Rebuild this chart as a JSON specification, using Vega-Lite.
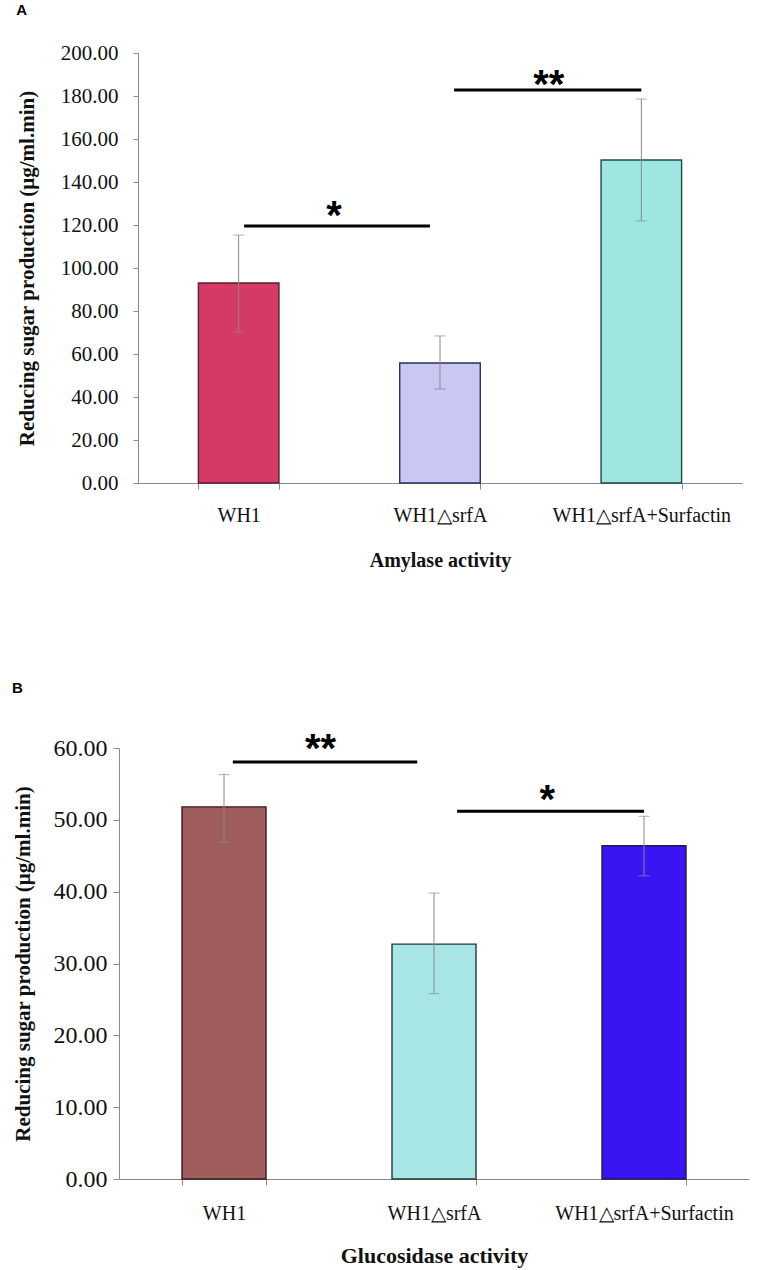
{
  "$schema": "https://vega.github.io/schema/vega-lite/v6.json",
  "background": "white",
  "padding": {"left": 12, "top": 3, "right": 10, "bottom": 2},
  "config": {
    "view": {"stroke": null},
    "font": "Liberation Serif",
    "axis": {"grid": false, "domainColor": "#8a8a8a", "tickColor": "#8a8a8a", "labelColor": "#111", "titleColor": "#111", "labelFont": "Liberation Serif", "titleFont": "Liberation Serif", "titleFontWeight": "bold"}
  },
  "datasets": {
    "a_bars": [
      {"strain": "WH1", "mean": 93.0, "lo": 70.2, "hi": 115.3},
      {"strain": "WH1△srfA", "mean": 55.8, "lo": 43.7, "hi": 68.4},
      {"strain": "WH1△srfA+Surfactin", "mean": 150.2, "lo": 121.9, "hi": 178.6}
    ],
    "a_sig": [
      {"x0": 0.527, "x1": 1.45, "y": 119.5, "xs": 0.974, "ys": 126.5, "label": "*"},
      {"x0": 1.57, "x1": 2.5, "y": 182.8, "xs": 2.04, "ys": 187.4, "label": "**"}
    ],
    "b_bars": [
      {"strain": "WH1", "mean": 51.8, "lo": 46.9, "hi": 56.3},
      {"strain": "WH1△srfA", "mean": 32.7, "lo": 25.8, "hi": 39.8},
      {"strain": "WH1△srfA+Surfactin", "mean": 46.4, "lo": 42.2, "hi": 50.5}
    ],
    "b_sig": [
      {"x0": 0.542, "x1": 1.42, "y": 58.05, "xs": 0.96, "ys": 60.6, "label": "**"},
      {"x0": 1.61, "x1": 2.5, "y": 51.2, "xs": 2.04, "ys": 53.5, "label": "*"}
    ]
  },
  "columns": 1,
  "align": "none",
  "spacing": 110,
  "resolve": {"scale": {"fill": "independent", "stroke": "independent", "x": "independent", "y": "independent"}},
  "concat": [
    {
      "title": {"text": "A", "anchor": "start", "frame": "bounds", "font": "Liberation Sans", "fontSize": 15, "fontWeight": "bold", "color": "#000", "offset": 24},
      "width": 623,
      "height": 430,
      "layer": [
        {
          "data": {"name": "a_bars"},
          "layer": [
            {
              "mark": {"type": "bar", "strokeWidth": 1.4},
              "encoding": {
                "x": {"field": "strain", "type": "nominal", "sort": null, "title": "Amylase activity",
                  "scale": {"paddingInner": 0.6, "paddingOuter": 0.3, "range": [19, 623]},
                  "axis": {"tickBand": "extent", "tickSize": 6, "labelAngle": 0, "labelFontSize": 20, "labelPadding": 16, "titleFontSize": 20, "titlePadding": 25}},
                "y": {"field": "mean", "type": "quantitative", "title": "Reducing sugar production (μg/ml.min)",
                  "scale": {"domain": [0, 200]},
                  "axis": {"offset": -19, "values": [0, 20, 40, 60, 80, 100, 120, 140, 160, 180, 200], "format": ".2f", "tickSize": 5, "labelFontSize": 21, "labelPadding": 15, "titleFontSize": 21, "titlePadding": 23}},
                "fill": {"field": "strain", "type": "nominal", "legend": null,
                  "scale": {"domain": ["WH1", "WH1△srfA", "WH1△srfA+Surfactin"], "range": ["#D43A63", "#C8C8F3", "#9EE7E1"]}},
                "stroke": {"field": "strain", "type": "nominal", "legend": null,
                  "scale": {"domain": ["WH1", "WH1△srfA", "WH1△srfA+Surfactin"], "range": ["#5a1f30", "#2e2e5a", "#1f4a4a"]}}
              }
            },
            {
              "mark": {"type": "rule", "color": "#8a8a8a", "strokeWidth": 1},
              "encoding": {
                "x": {"field": "strain", "type": "nominal", "sort": null},
                "y": {"field": "lo", "type": "quantitative"},
                "y2": {"field": "hi"}
              }
            },
            {
              "mark": {"type": "tick", "color": "#8a8a8a", "size": 11, "thickness": 1},
              "encoding": {
                "x": {"field": "strain", "type": "nominal", "sort": null},
                "y": {"field": "hi", "type": "quantitative"}
              }
            },
            {
              "mark": {"type": "tick", "color": "#8a8a8a", "size": 11, "thickness": 1},
              "encoding": {
                "x": {"field": "strain", "type": "nominal", "sort": null},
                "y": {"field": "lo", "type": "quantitative"}
              }
            }
          ]
        },
        {
          "data": {"name": "a_sig"},
          "layer": [
            {
              "mark": {"type": "rule", "color": "#000", "strokeWidth": 3},
              "encoding": {
                "x": {"field": "x0", "type": "quantitative", "scale": {"domain": [0, 3], "range": [19, 623], "nice": false, "zero": false}, "axis": null},
                "x2": {"field": "x1"},
                "y": {"field": "y", "type": "quantitative"}
              }
            },
            {
              "mark": {"type": "text", "font": "Liberation Sans", "fontSize": 40, "fontWeight": "bold", "dy": 6, "color": "#000"},
              "encoding": {
                "x": {"field": "xs", "type": "quantitative"},
                "y": {"field": "ys", "type": "quantitative"},
                "text": {"field": "label"}
              }
            }
          ]
        }
      ],
      "resolve": {"scale": {"x": "independent"}}
    },
    {
      "title": {"text": "B", "anchor": "start", "frame": "bounds", "font": "Liberation Sans", "fontSize": 15, "fontWeight": "bold", "color": "#000", "offset": 34},
      "width": 630,
      "height": 431,
      "layer": [
        {
          "data": {"name": "b_bars"},
          "layer": [
            {
              "mark": {"type": "bar", "strokeWidth": 1.4},
              "encoding": {
                "x": {"field": "strain", "type": "nominal", "sort": null, "title": "Glucosidase activity",
                  "scale": {"paddingInner": 0.6, "paddingOuter": 0.3},
                  "axis": {"tickBand": "extent", "tickSize": 6, "labelAngle": 0, "labelFontSize": 20, "labelPadding": 18, "titleFontSize": 22, "titlePadding": 22}},
                "y": {"field": "mean", "type": "quantitative", "title": "Reducing sugar production (μg/ml.min)",
                  "scale": {"domain": [0, 60]},
                  "axis": {"values": [0, 10, 20, 30, 40, 50, 60], "format": ".2f", "tickSize": 6, "labelFontSize": 24, "labelPadding": 6, "titleFontSize": 21, "titlePadding": 20}},
                "fill": {"field": "strain", "type": "nominal", "legend": null,
                  "scale": {"domain": ["WH1", "WH1△srfA", "WH1△srfA+Surfactin"], "range": ["#A05D5D", "#A8E5E5", "#3B14F4"]}},
                "stroke": {"field": "strain", "type": "nominal", "legend": null,
                  "scale": {"domain": ["WH1", "WH1△srfA", "WH1△srfA+Surfactin"], "range": ["#3a1a1a", "#1f3a3a", "#1a1a50"]}}
              }
            },
            {
              "mark": {"type": "rule", "color": "#8a8a8a", "strokeWidth": 1},
              "encoding": {
                "x": {"field": "strain", "type": "nominal", "sort": null},
                "y": {"field": "lo", "type": "quantitative"},
                "y2": {"field": "hi"}
              }
            },
            {
              "mark": {"type": "tick", "color": "#8a8a8a", "size": 11, "thickness": 1},
              "encoding": {
                "x": {"field": "strain", "type": "nominal", "sort": null},
                "y": {"field": "hi", "type": "quantitative"}
              }
            },
            {
              "mark": {"type": "tick", "color": "#8a8a8a", "size": 11, "thickness": 1},
              "encoding": {
                "x": {"field": "strain", "type": "nominal", "sort": null},
                "y": {"field": "lo", "type": "quantitative"}
              }
            }
          ]
        },
        {
          "data": {"name": "b_sig"},
          "layer": [
            {
              "mark": {"type": "rule", "color": "#000", "strokeWidth": 3},
              "encoding": {
                "x": {"field": "x0", "type": "quantitative", "scale": {"domain": [0, 3], "nice": false, "zero": false}, "axis": null},
                "x2": {"field": "x1"},
                "y": {"field": "y", "type": "quantitative"}
              }
            },
            {
              "mark": {"type": "text", "font": "Liberation Sans", "fontSize": 40, "fontWeight": "bold", "dy": 6, "color": "#000"},
              "encoding": {
                "x": {"field": "xs", "type": "quantitative"},
                "y": {"field": "ys", "type": "quantitative"},
                "text": {"field": "label"}
              }
            }
          ]
        }
      ],
      "resolve": {"scale": {"x": "independent"}}
    }
  ]
}
